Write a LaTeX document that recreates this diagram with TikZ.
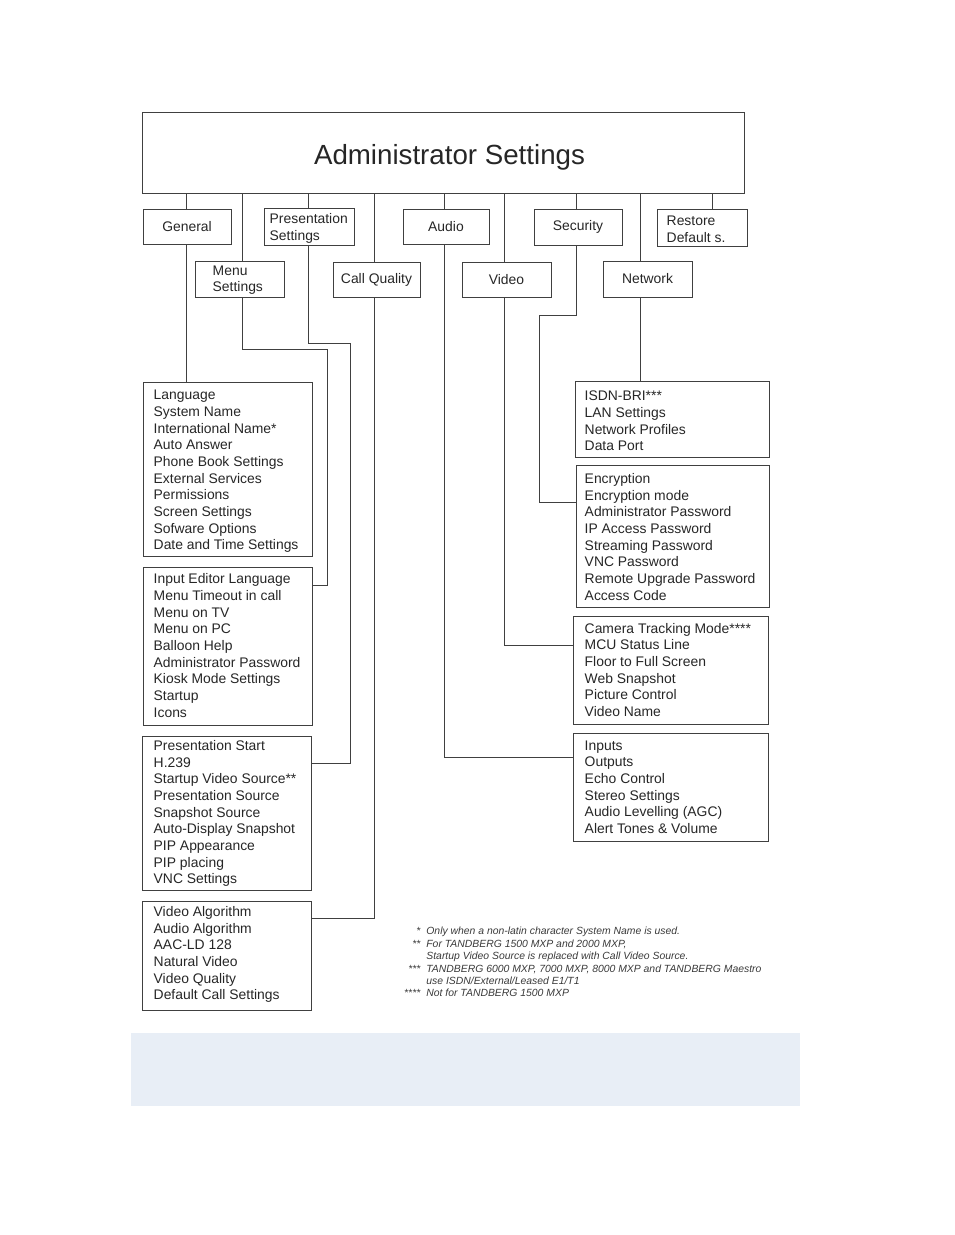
\documentclass[tikz,border=0pt]{standalone}
\usepackage{fontspec}
\setmainfont{Liberation Sans}
\usetikzlibrary{calc}
\definecolor{linec}{HTML}{404040}
\definecolor{txt}{HTML}{262626}
\definecolor{fntxt}{HTML}{3A3A3A}
\definecolor{bluebg}{HTML}{E8EEF6}
\newcommand\boxfont{\fontsize{13.9}{16.67}\selectfont}
\begin{document}
\begin{tikzpicture}[x=1pt,y=-1pt,
  box/.style={draw=linec, line width=0.95pt, rectangle, inner sep=0pt, font=\boxfont, text=txt},
  ltext/.style={anchor=west, align=left, inner sep=0pt, font=\boxfont, text=txt},
  conn/.style={draw=linec, line width=0.95pt}]
\path[use as bounding box] (0,0) rectangle (954,1235);

% main box
\node[box, minimum width=602pt, minimum height=81pt] (top) at (443,152.5) {};
\node[inner sep=0pt, font=\fontsize{27.7}{33}\selectfont, text=txt] (title) at (449.5,157) {Administrator Settings};

% first row
\node[box, minimum width=88pt, minimum height=35pt] (gen) at (187,226.5) {General};
\node[box, minimum width=90pt, minimum height=37pt] (pres) at (309,226.5) {};
\node[ltext] (presT) at ($(pres.west)+(6,2)$) {Presentation\\Settings};
\node[box, minimum width=86pt, minimum height=35pt] (aud) at (446,226.5) {Audio};
\node[box, minimum width=88pt, minimum height=36pt] (sec) at (578,227) {Security};
\node[box, minimum width=90pt, minimum height=37pt] (rest) at (702,227.5) {};
\node[ltext] (restT) at ($(rest.west)+(10,1.5)$) {Restore\\Default s.};

% second row
\node[box, minimum width=89pt, minimum height=36pt] (menu) at (239.5,279) {};
\node[ltext] (menuT) at ($(menu.west)+(18,1)$) {Menu\\Settings};
\node[box, minimum width=87pt, minimum height=35pt] (cq) at (376.5,279.5) {Call Quality};
\node[box, minimum width=89pt, minimum height=35pt] (vid) at (506.5,279.5) {Video};
\node[box, minimum width=89pt, minimum height=36pt] (net) at (647.5,279) {Network};

% list boxes, left column
\node[box, minimum width=169pt, minimum height=174pt] (genL) at (227.5,469) {};
\node[ltext] (genT) at ($(genL.west)+(11,2.5)$) {Language\\System Name\\International Name*\\Auto Answer\\Phone Book Settings\\External Services\\Permissions\\Screen Settings\\Sofware Options\\Date and Time Settings};

\node[box, minimum width=169pt, minimum height=158pt] (menuL) at (227.5,646) {};
\node[ltext] (menuT2) at ($(menuL.west)+(11,-0.5)$) {Input Editor Language\\Menu Timeout in call\\Menu on TV\\Menu on PC\\Balloon Help\\Administrator Password\\Kiosk Mode Settings\\Startup\\Icons};

\node[box, minimum width=169pt, minimum height=154pt] (presL) at (226.5,813) {};
\node[ltext] (presT2) at ($(presL.west)+(12,0.5)$) {Presentation Start\\H.239\\Startup Video Source**\\Presentation Source\\Snapshot Source\\Auto-Display Snapshot\\PIP Appearance\\PIP placing\\VNC Settings};

\node[box, minimum width=169pt, minimum height=109pt] (cqL) at (226.5,955.5) {};
\node[ltext] (cqT) at ($(cqL.west)+(12,-1)$) {Video Algorithm\\Audio Algorithm\\AAC-LD 128\\Natural Video\\Video Quality\\Default Call Settings};

% list boxes, right column
\node[box, minimum width=194pt, minimum height=76pt] (netL) at (672,419) {};
\node[ltext] (netT) at ($(netL.west)+(10,2)$) {ISDN-BRI***\\LAN Settings\\Network Profiles\\Data Port};

\node[box, minimum width=193pt, minimum height=142pt] (secL) at (672.5,536) {};
\node[ltext] (secT) at ($(secL.west)+(9,1)$) {Encryption\\Encryption mode\\Administrator Password\\IP Access Password\\Streaming Password\\VNC Password\\Remote Upgrade Password\\Access Code};

\node[box, minimum width=195pt, minimum height=108pt] (vidL) at (670.5,670) {};
\node[ltext] (vidT) at ($(vidL.west)+(12,0)$) {Camera Tracking Mode****\\MCU Status Line\\Floor to Full Screen\\Web Snapshot\\Picture Control\\Video Name};

\node[box, minimum width=195pt, minimum height=108pt] (audL) at (670.5,787) {};
\node[ltext] (audT) at ($(audL.west)+(12,0)$) {Inputs\\Outputs\\Echo Control\\Stereo Settings\\Audio Levelling (AGC)\\Alert Tones \& Volume};

% connector anchor points
\coordinate (genN) at ($(gen.north)+(-1,0)$);   \coordinate (genS) at ($(gen.south)+(-1,0)$);
\coordinate (menuN) at ($(menu.north)+(2.5,0)$); \coordinate (menuS) at ($(menu.south)+(2.5,0)$);
\coordinate (presN) at ($(pres.north)+(-1,0)$);  \coordinate (presS) at ($(pres.south)+(-1,0)$);
\coordinate (cqN) at ($(cq.north)+(-2.5,0)$);    \coordinate (cqS) at ($(cq.south)+(-2.5,0)$);
\coordinate (audN) at ($(aud.north)+(-2,0)$);    \coordinate (audS) at ($(aud.south)+(-2,0)$);
\coordinate (vidN) at ($(vid.north)+(-2.5,0)$);  \coordinate (vidS) at ($(vid.south)+(-2.5,0)$);
\coordinate (secN) at ($(sec.north)+(-2,0)$);    \coordinate (secS) at ($(sec.south)+(-2,0)$);
\coordinate (netN) at ($(net.north)+(-7.5,0)$);  \coordinate (netS) at ($(net.south)+(-7.5,0)$);
\coordinate (restN) at ($(rest.north)+(10,0)$);
\coordinate (menuTurn) at (327,349);
\coordinate (presTurn) at (350,343);
\coordinate (secTurn) at (539,315);

% lines from main box
\foreach \c in {genN,menuN,presN,cqN,audN,vidN,secN,netN,restN}
  \draw[conn] (\c |- top.south) -- (\c);

% lines to list boxes
\draw[conn] (genS) -- (genS |- genL.north);
\draw[conn] (menuS) |- (menuTurn) |- ($(menuL.east)+(0,-61)$);
\draw[conn] (presS) |- (presTurn) |- ($(presL.east)+(0,-50)$);
\draw[conn] (cqS) |- ($(cqL.east)+(0,-37.5)$);
\draw[conn] (audS) |- ($(audL.west)+(0,-30)$);
\draw[conn] (vidS) |- ($(vidL.west)+(0,-25)$);
\draw[conn] (secS) |- (secTurn) |- ($(secL.west)+(0,-34)$);
\draw[conn] (netS) -- (netS |- netL.north);

% footnotes
\node[anchor=north west, inner sep=0pt, text=fntxt, font=\fontsize{10.4}{12.4}\selectfont\itshape] (notes) at (404,926)
{\begin{tabular}{@{}r@{\hspace{6pt}}l@{}}
{*} & Only when a non-latin character System Name is used.\\
{**} & For TANDBERG 1500 MXP and 2000 MXP,\\
{} & Startup Video Source is replaced with Call Video Source.\\
{***} & TANDBERG 6000 MXP, 7000 MXP, 8000 MXP and TANDBERG Maestro\\
{} & use ISDN/External/Leased E1/T1\\
{****} & Not for TANDBERG 1500 MXP
\end{tabular}};

% blue band
\fill[bluebg] (131,1033) rectangle (800,1106);
\end{tikzpicture}
\end{document}
